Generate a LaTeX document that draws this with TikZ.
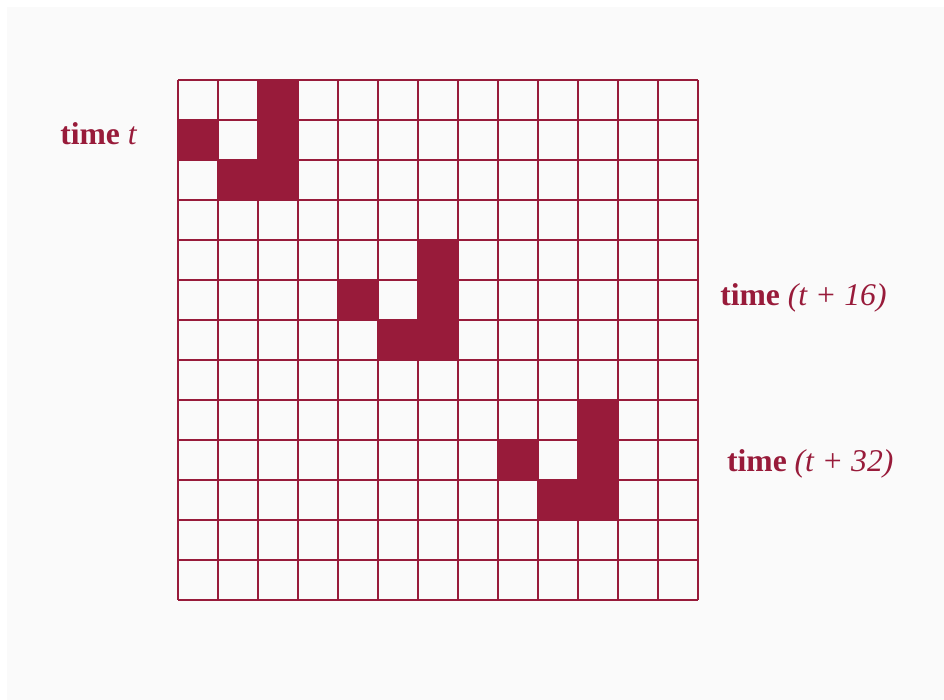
\documentclass[tikz,border=0pt]{standalone}
\usepackage{fontspec}
\setmainfont{Liberation Serif}
\usepackage{tikz}
\usetikzlibrary{positioning}
\definecolor{crimson}{HTML}{981B3A}
\definecolor{paper}{HTML}{FAFAFA}
\tikzset{>=latex}
\tikzset{cell/.style={fill=crimson, draw=crimson, line width=1.2pt}}
\tikzset{timelabel/.style={text=crimson, font=\fontsize{22.5}{26}\selectfont, inner sep=0pt}}

\begin{document}
\begin{tikzpicture}
          % page and panel
          \fill[white] (-4.45,2) rectangle (19.15,-15.5);
          \fill[paper] (-4.275,1.825) rectangle (19.15,-15.5);
          % the three gliders
          \foreach \s in {0,4,8} {
            \foreach \c/\r in {2/0, 2/1, 2/2, 0/1, 1/2} {
              \filldraw[cell] (\c+\s,-\r-\s) rectangle ++(1,-1);
            }
          }
          % grid
          \draw[crimson, line width=1.2pt] (0,0) grid[step=1] (13,-13);
          \node[timelabel, anchor=base west] (tzero) at (-2.95,-1.62) {\textbf{time} \textit{t}};
          \node[timelabel, anchor=base west] (tsixteen) at (13.55,-5.63) {\textbf{time} \textit{(t + 16)}};
          \node[timelabel, anchor=base west] (tthirtytwo) at (13.72,-9.8) {\textbf{time} \textit{(t + 32)}};
        \end{tikzpicture}
\end{document}
